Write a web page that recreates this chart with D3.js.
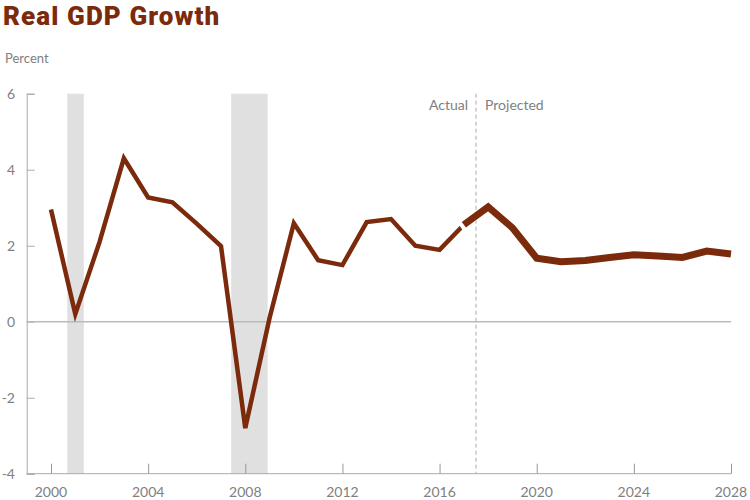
<!DOCTYPE html>
<html>
<head>
<meta charset="utf-8">
<script src="https://cdn.jsdelivr.net/npm/d3@7"></script>
<style>
body{margin:0;background:#fff}
text{font-family:Lato,"Open Sans",sans-serif}
</style>
</head>
<body>
<svg></svg>
<script>
// actual years and values
var actualYears=[2000,2001,2002,2003,2004,2005,2006,2007,2008,2009,2010,2011,2012,2013,2014,2015,2016,2017]
var actualValues=[2.95,0.2,2.1,4.3,3.27,3.14,2.58,1.99,-2.8,0.1,2.59,1.62,1.49,2.62,2.7,2.0,1.89,2.55]
// projected
var projYears=[2017,2018,2019,2020,2021,2022,2023,2024,2025,2026,2027,2028]
var projValues=[2.55,3.02,2.47,1.67,1.58,1.61,1.69,1.76,1.73,1.69,1.86,1.78]
// recessions
var recessions=[[2000.67,2001.35],[2007.42,2008.92]]
var xTicks=[2000,2004,2008,2012,2016,2020,2024,2028]
var yTicks=[-4,-2,0,2,4,6]
var splitYear=2017.5

var svg=d3.select("svg").attr("width",750).attr("height",500)

var x=d3.scaleLinear().domain([2000,2028]).range([51,731])
var y=d3.scaleLinear().domain([-4,6]).range([473.7,93.7])
var brown="#7b2a0c"
var grey="#aaa"

svg.append("text").text("Real GDP Growth")
  .attr("x",3).attr("y",25)
  .style("font-family","Roboto,sans-serif")
  .style("font-size","26px").style("font-weight",900)
  .style("letter-spacing","1.1px")
  .attr("fill",brown)

svg.append("text").text("Percent")
  .attr("x",5).attr("y",63)
  .style("font-size","13px").attr("fill","#808080")

svg.selectAll("rect.rec")
  .data(recessions)
  .enter()
  .append("rect")
  .attr("x",d=>x(d[0]))
  .attr("width",d=>x(d[1])-x(d[0]))
  .attr("y",y(6))
  .attr("height",y(-4)-y(6))
  .attr("fill","#e0e0e0")

// y axis
var yAxis=d3.axisRight(y).tickValues(yTicks).tickSize(8).tickFormat("")
var gy=svg.append("g").attr("transform","translate(26.7,0)").call(yAxis)
gy.select(".domain").attr("stroke",grey)
gy.selectAll(".tick line").attr("stroke",grey)
svg.selectAll("text.ylab")
  .data(yTicks)
  .enter()
  .append("text")
  .attr("class","ylab")
  .text(d=>d)
  .attr("x",15).attr("y",d=>y(d)+5)
  .attr("text-anchor","end")
  .style("font-size","14px").attr("fill","#808080")

// x axis
var xAxis=d3.axisTop(x).tickValues(xTicks).tickSize(10).tickFormat("")
var gx=svg.append("g").attr("transform","translate(0,"+y(-4)+")").call(xAxis)
gx.select(".domain").attr("d","M26.7,0H"+x(2028)).attr("stroke",grey)
gx.selectAll(".tick line").attr("stroke","#999")
svg.selectAll("text.xlab")
  .data(xTicks)
  .enter()
  .append("text")
  .text(d=>d)
  .attr("x",d=>x(d)).attr("y",497)
  .attr("text-anchor","middle")
  .style("font-size","14px").attr("fill","#808080")

// zero line
svg.append("line")
  .attr("x1",26.7).attr("x2",x(2028))
  .attr("y1",y(0)).attr("y2",y(0))
  .attr("stroke","#bbb").attr("stroke-width",1.5)

// actual / projected divider
svg.append("line")
  .attr("x1",x(splitYear)).attr("x2",x(splitYear))
  .attr("y1",y(6)).attr("y2",y(-4))
  .attr("stroke","#aaa").attr("stroke-dasharray","4,3")
svg.append("text").text("Actual")
  .attr("x",x(splitYear)-8).attr("y",110)
  .attr("text-anchor","end")
  .style("font-size","14px").attr("fill","#808080")
svg.append("text").text("Projected")
  .attr("x",x(splitYear)+9).attr("y",110)
  .style("font-size","14px").attr("fill","#808080")

var line=d3.line()
  .x(d=>x(d[0]))
  .y(d=>y(d[1]))

var actual=actualYears.map((d,i)=>[d,actualValues[i]])
var proj=projYears.map((d,i)=>[d,projValues[i]])

svg.append("path")
  .datum(actual)
  .attr("d",line)
  .attr("fill","none")
  .attr("stroke",brown)
  .attr("stroke-width",4.5)
  .attr("stroke-linejoin","miter")

// white halo under projected line
svg.append("path")
  .datum(proj)
  .attr("d",line)
  .attr("fill","none")
  .attr("stroke","#fff")
  .attr("stroke-width",8)
  .attr("stroke-linecap","square")

svg.append("path")
  .datum(proj)
  .attr("d",line)
  .attr("fill","none")
  .attr("stroke",brown)
  .attr("stroke-width",7)
  .attr("stroke-linejoin","miter")
</script>
</body>
</html>
